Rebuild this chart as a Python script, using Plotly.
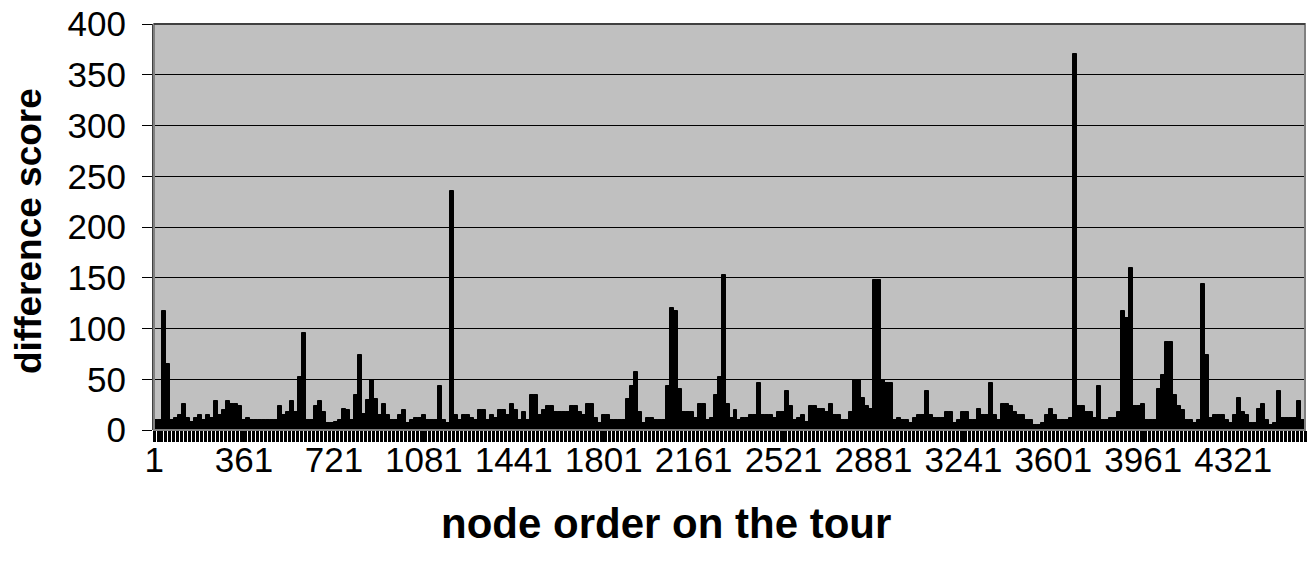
import plotly.graph_objects as go

# Each bar summarises a block of 16 consecutive nodes on the tour
block_size = 16
block_start = list(range(1, 4609, 16))  # first node of each block

difference_score = [
    10, 10, 117, 65, 10, 12, 15, 26, 12, 8, 12, 15, 10, 15, 12, 29, 15, 20, 29, 26, 26, 24, 10, 12,
    10, 10, 10, 10, 10, 10, 10, 24, 15, 18, 29, 18, 52, 96, 10, 10, 24, 29, 18, 7, 7, 8, 10, 21,
    20, 10, 34, 74, 16, 30, 49, 31, 15, 26, 15, 10, 10, 15, 20, 7, 10, 12, 12, 15, 10, 10, 10, 43,
    10, 7, 235, 15, 10, 15, 15, 12, 10, 20, 20, 10, 15, 12, 20, 20, 15, 26, 20, 10, 18, 10, 34, 34, 15,
    20, 24, 24, 18, 18, 18, 18, 24, 24, 18, 15, 26, 26, 12, 7, 15, 15, 10, 10, 10, 10, 31, 43, 57,
    18, 7, 12, 12, 10, 10, 10, 43, 120, 117, 40, 18, 18, 18, 12, 26, 26, 10, 12, 34, 52, 153, 26, 12, 20,
    10, 12, 12, 15, 15, 46, 15, 15, 15, 12, 18, 18, 38, 24, 10, 12, 15, 8, 24, 24, 21, 21, 18, 26,
    15, 15, 10, 10, 18, 49, 49, 32, 24, 21, 148, 148, 49, 46, 46, 10, 12, 10, 10, 7, 12, 15, 15, 38,
    15, 12, 12, 12, 18, 18, 7, 10, 18, 18, 10, 10, 21, 15, 15, 46, 15, 10, 26, 26, 24, 18, 15, 15,
    10, 10, 5, 5, 7, 15, 21, 15, 10, 10, 10, 12, 370, 24, 24, 18, 18, 12, 43, 10, 10, 12, 12, 18, 117,
    110, 160, 24, 24, 26, 10, 10, 10, 40, 54, 87, 87, 34, 24, 20, 10, 10, 7, 10, 144, 74, 12, 15,
    15, 15, 10, 7, 15, 32, 18, 15, 7, 7, 21, 26, 10, 5, 7, 38, 12, 12, 12, 12, 29, 10,
]

x_tick_values = [1, 361, 721, 1081, 1441, 1801, 2161, 2521, 2881, 3241, 3601, 3961, 4321]
x_tick_labels = [str(v) for v in x_tick_values]
y_tick_values = [0, 50, 100, 150, 200, 250, 300, 350, 400]

n_nodes = 4608
block_center = [s + (block_size - 1) / 2 for s in block_start]

FONT = "Arial, Liberation Sans, sans-serif"

fig = go.Figure(
    go.Bar(
        x=block_center,
        y=difference_score,
        width=block_size,
        marker=dict(color="black", line=dict(color="black", width=1)),
        hoverinfo="x+y",
    )
)

fig.update_layout(
    width=1310,
    height=565,
    margin=dict(l=154, r=5, t=24, b=135, autoexpand=False),
    paper_bgcolor="white",
    plot_bgcolor="#C0C0C0",
    showlegend=False,
    bargap=0,
    font=dict(family=FONT, color="black"),
    xaxis=dict(
        type="linear",
        automargin=False,
        range=[0.5, n_nodes + 0.5],
        tickmode="array",
        tickvals=x_tick_values,
        ticktext=x_tick_labels,
        ticks="outside",
        ticklen=11,
        tickwidth=3,
        tickcolor="black",
        tickfont=dict(size=35, family=FONT, color="black"),
        ticklabelstandoff=-12,
        ticklabeloverflow="allow",
        showgrid=False,
        zeroline=False,
        showline=False,
        minor=dict(
            tick0=0.5,
            dtick=block_size,
            ticks="outside",
            ticklen=11,
            tickwidth=3,
            tickcolor="black",
            showgrid=False,
        ),
    ),
    yaxis=dict(
        automargin=False,
        range=[0, 400],
        tickmode="array",
        tickvals=y_tick_values,
        ticks="outside",
        ticklen=10,
        tickwidth=1,
        tickcolor="black",
        tickfont=dict(size=35, family=FONT, color="black"),
        ticklabelstandoff=9,
        ticklabeloverflow="allow",
        showgrid=True,
        gridcolor="black",
        gridwidth=1,
        zeroline=False,
        showline=True,
        linecolor="#404040",
        linewidth=2,
    ),
    shapes=[
        dict(
            type="rect", xref="paper", yref="paper", x0=0, x1=1, y0=0, y1=1,
            line=dict(color="#808080", width=2), layer="above",
        ),
        dict(
            type="line", xref="paper", yref="paper", x0=0, x1=1, y0=1, y1=1,
            line=dict(color="black", width=1), layer="above",
        ),
    ],
    annotations=[
        dict(
            text="<b>difference score</b>", xref="paper", yref="paper",
            x=-0.1095, y=0.49, xanchor="center", yanchor="middle",
            textangle=-90, showarrow=False,
            font=dict(size=37, family=FONT, color="black"),
        ),
        dict(
            text="<b>node order on the tour</b>", xref="paper", yref="paper",
            x=0.445, y=-0.2315, xanchor="center", yanchor="middle",
            showarrow=False,
            font=dict(size=42, family=FONT, color="black"),
        ),
    ],
)

fig.write_html(
    "out.html",
    config={"displayModeBar": False},
    post_script="document.body.style.margin='0';",
)
